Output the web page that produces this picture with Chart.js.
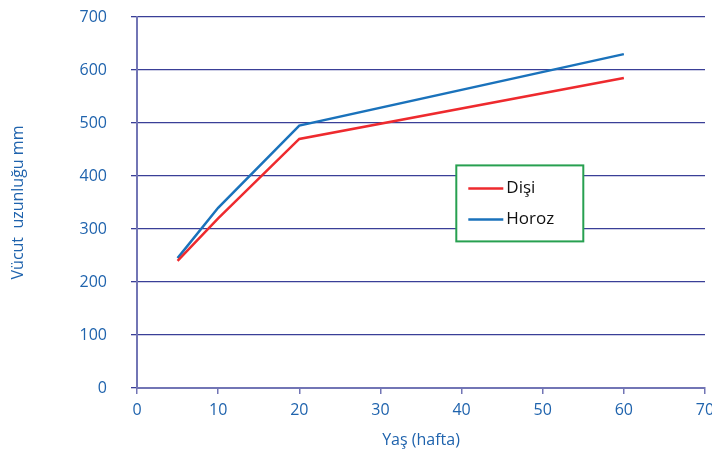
<!DOCTYPE html>
<html>
<head>
<meta charset="utf-8">
<script src="https://cdn.jsdelivr.net/npm/chart.js@4"></script>
<style>
  html, body { margin: 0; padding: 0; background: #fff; }
  #wrap { width: 712px; height: 457px; }
</style>
</head>
<body>
<div id="wrap"><canvas id="growthChart" width="712" height="457"></canvas></div>
<script>
// yaş (hafta)
const weeks = [5, 10, 20, 60];
const disiValues = [240, 320, 470, 585];
const horozValues = [245, 340, 495, 630];
const seriesNames = ['Dişi', 'Horoz'];
const seriesColors = ['#ee2a2e', '#1a72bb'];

const tickBlue = '#1f63ad';
const gridBlue = '#3a3f97';
const axisPurple = '#7275b5';

function toPoints(vals) {
    return weeks.map(function(w, i) { return { x: w, y: vals[i] }; });
}

// legend box inside the plot, like the original figure
const boxLegend = {
    id: 'boxLegend',
    afterDraw: function(chart) {
        const ctx = chart.ctx;
        const x0 = chart.scales.x.getPixelForValue(39.35);
        const y0 = chart.scales.y.getPixelForValue(420);
        const w = 127, h = 76;
        ctx.save();
        ctx.fillStyle = '#fff';
        ctx.fillRect(x0, y0, w, h);
        ctx.strokeStyle = '#27a050';
        ctx.lineWidth = 2;
        ctx.strokeRect(x0, y0, w, h);
        ctx.font = '17px "Open Sans", sans-serif';
        ctx.textBaseline = 'middle';
        seriesNames.forEach(function(name, i) {
            const ly = y0 + 23 + i * 31;
            ctx.strokeStyle = seriesColors[i];
            ctx.lineWidth = 2.5;
            ctx.beginPath();
            ctx.moveTo(x0 + 12, ly);
            ctx.lineTo(x0 + 47, ly);
            ctx.stroke();
            ctx.fillStyle = '#111';
            ctx.fillText(name, x0 + 50, ly);
        });
        ctx.restore();
    }
};

const ctx = document.getElementById('growthChart').getContext('2d');
new Chart(ctx, {
    type: 'line',
    data: {
        datasets: [{
            label: seriesNames[0],
            data: toPoints(disiValues),
            borderColor: seriesColors[0],
            borderWidth: 2.5,
            pointRadius: 0,
            tension: 0
        }, {
            label: seriesNames[1],
            data: toPoints(horozValues),
            borderColor: seriesColors[1],
            borderWidth: 2.5,
            pointRadius: 0,
            tension: 0
        }]
    },
    options: {
        responsive: false,
        animation: false,
        layout: { padding: { top: 17, right: 7, left: 0, bottom: 0 } },
        plugins: {
            legend: { display: false },
            tooltip: { enabled: false }
        },
        scales: {
            x: {
                type: 'linear',
                min: 0,
                max: 70,
                ticks: {
                    stepSize: 10,
                    color: tickBlue,
                    font: { family: '"Open Sans", sans-serif', size: 16 },
                    padding: 7,
                    maxRotation: 0
                },
                grid: {
                    drawOnChartArea: false,
                    drawTicks: true,
                    tickLength: 6,
                    color: axisPurple,
                    lineWidth: 1.5
                },
                border: { color: axisPurple, width: 2 },
                title: {
                    display: true,
                    text: 'Yaş (hafta)',
                    color: tickBlue,
                    font: { family: '"Open Sans", sans-serif', size: 16 },
                    padding: { top: 8, bottom: 7 }
                },
                afterFit: function(scale) {
                    scale.height = 69;
                    scale.paddingLeft = 0;
                    scale.paddingRight = 0;
                }
            },
            y: {
                min: 0,
                max: 700,
                ticks: {
                    stepSize: 100,
                    color: tickBlue,
                    font: { family: '"Open Sans", sans-serif', size: 16 },
                    padding: 24
                },
                grid: {
                    color: gridBlue,
                    lineWidth: 1.3,
                    drawTicks: true,
                    tickLength: 6
                },
                border: { color: axisPurple, width: 2 },
                title: {
                    display: true,
                    text: 'Vücut  uzunluğu mm',
                    color: tickBlue,
                    font: { family: '"Open Sans", sans-serif', size: 16 },
                    padding: { top: 9, bottom: 0 }
                },
                afterFit: function(scale) {
                    scale.width = 137;
                    scale.paddingTop = 0;
                    scale.paddingBottom = 0;
                }
            }
        }
    },
    plugins: [boxLegend]
});
</script>
</body>
</html>
